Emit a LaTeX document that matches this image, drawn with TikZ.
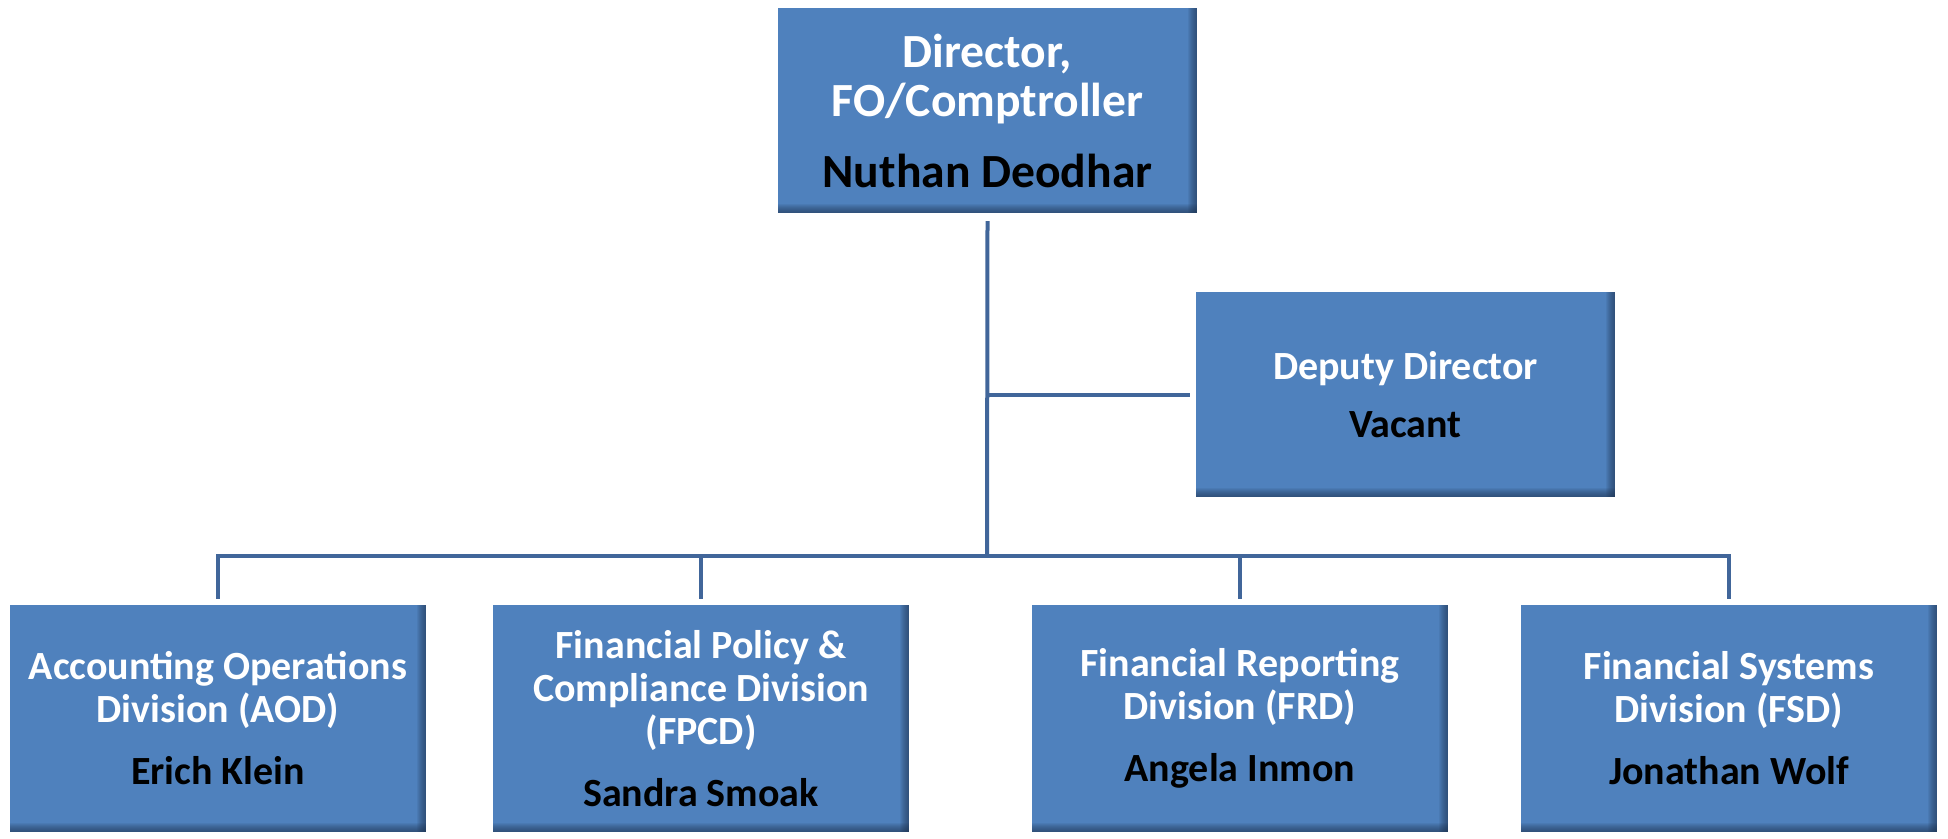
\documentclass[tikz,border=0pt]{standalone}
\usepackage{fontspec}
\setmainfont{Carlito}
\usepackage{xcolor}
\usepackage{tikz}
\usetikzlibrary{positioning}
\definecolor{boxblue}{HTML}{4F81BD}
\definecolor{boxedge}{HTML}{1F3550}
\definecolor{linkblue}{HTML}{41669A}
\newcommand{\who}[1]{\textcolor{black}{#1}}

\begin{document}
\begin{tikzpicture}[
        x=1pt, y=-1pt,
        unit/.style={rectangle, fill=boxblue, inner sep=0pt, text=white, align=center,
            minimum width=416pt, minimum height=227pt,
            font=\bfseries\fontsize{40}{43}\selectfont,
            path picture={
                \foreach \i in {1,...,9} {
                    \fill[boxedge, opacity=0.09]
                        ([xshift=-\i pt]path picture bounding box.north east) rectangle (path picture bounding box.south east);
                    \fill[boxedge, opacity=0.09]
                        ([yshift=\i pt]path picture bounding box.south west) rectangle (path picture bounding box.south east);
                }
            }},
        head/.style={unit, minimum width=419pt, minimum height=205pt},
        link/.style={draw=linkblue, line width=4pt, line join=miter}
    ]
    \useasboundingbox (0,0) rectangle (1948,838);

    % Boxes
    \node[head, font=\bfseries\fontsize{47.6}{49}\selectfont] (dir) at (987.5,110.5) {Director,\\FO/Comptroller\\[22pt]\who{Nuthan Deodhar}};
    \node[head] (dep) at (1405.5,394.5) {Deputy Director\\[15pt]\who{Vacant}};

    \node[unit] (aod) at (218,718.5) {Accounting Operations\\Division (AOD)\\[19pt]\who{Erich Klein}};
    \node[unit] (fpcd) at (701,718.5) {Financial Policy \&\\Compliance Division\\(FPCD)\\[19pt]\who{Sandra Smoak}};
    \node[unit] (frd) at (1240,718.5) {Financial Reporting\\Division (FRD)\\[19pt]\who{Angela Inmon}};
    \node[unit] (fsd) at (1729,718.5) {Financial Systems\\Division (FSD)\\[19pt]\who{Jonathan Wolf}};

    % Lines
    \coordinate (bus) at (987,556);
    \draw[link] ([yshift=-8pt]dir.south) -- (bus);
    \draw[link] (dir.south |- dep.west) -- ([xshift=-6pt]dep.west);
    \draw[link] ([yshift=6pt]aod.north) |- (bus) -| ([yshift=6pt]fsd.north);
    \foreach \n in {fpcd,frd}
        \draw[link] (\n.north |- bus) -- ([yshift=6pt]\n.north);

\end{tikzpicture}
\end{document}
